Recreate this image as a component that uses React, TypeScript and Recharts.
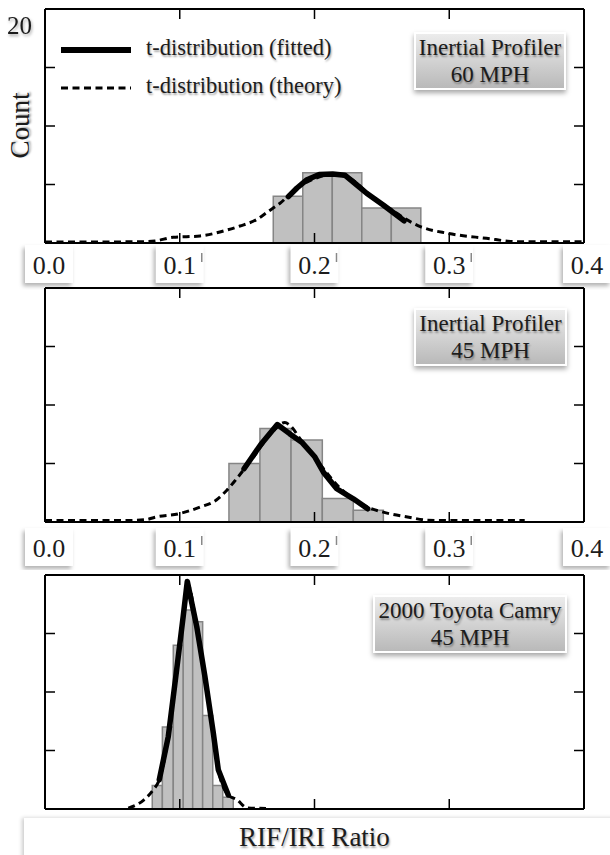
import React from "react";
import { ComposedChart, Line, XAxis, YAxis, ReferenceArea } from "recharts";

const xTicks = [0, 0.1, 0.2, 0.3, 0.4];
const yTicks = [0, 5, 10, 15, 20];
const seriesNames = ["t-distribution (fitted)", "t-distribution (theory)"];

// Inertial Profiler, 60 MPH
const topBinEdges = [0.1694, 0.1913, 0.2132, 0.2351, 0.257, 0.2789];
const topCounts = [4, 6, 6, 3, 3];
const topFitX = [0.1806, 0.187, 0.194, 0.2035, 0.2135, 0.2225, 0.231, 0.2387, 0.251, 0.2665];
const topFitY = [3.96, 4.7, 5.38, 5.85, 5.9, 5.8, 5.0, 4.25, 3.25, 1.9];
const topTheoryX = [0, 0.02, 0.04, 0.06, 0.075, 0.0816, 0.0952, 0.105, 0.115, 0.1348, 0.1447, 0.157, 0.1657, 0.1744, 0.185, 0.2, 0.213, 0.225, 0.24, 0.255, 0.2785, 0.2987, 0.3276, 0.35, 0.375, 0.4];
const topTheoryY = [0.08, 0.08, 0.08, 0.1, 0.12, 0.17, 0.49, 0.54, 0.6, 1.1, 1.45, 2.0, 2.7, 3.4, 4.5, 5.5, 5.85, 5.6, 4.2, 3.0, 1.4, 0.83, 0.4, 0.11, 0.1, 0.1];

// Inertial Profiler, 45 MPH
const midBinEdges = [0.1365, 0.1595, 0.1826, 0.2058, 0.2288, 0.2511];
const midCounts = [5, 8, 7, 2, 1];
const midFitX = [0.1477, 0.16, 0.1724, 0.1815, 0.1905, 0.2, 0.2066, 0.2165, 0.2288, 0.2395];
const midFitY = [4.55, 6.6, 8.33, 7.55, 6.82, 5.6, 4.26, 2.84, 1.98, 1.13];
const midTheoryX = [0, 0.03, 0.06, 0.075, 0.0816, 0.099, 0.115, 0.1274, 0.1348, 0.1422, 0.155, 0.168, 0.178, 0.1818, 0.19, 0.205, 0.218, 0.23, 0.241, 0.251, 0.27, 0.284, 0.3, 0.33, 0.356];
const midTheoryY = [0.12, 0.12, 0.12, 0.2, 0.41, 0.7, 1.27, 1.9, 2.7, 3.7, 5.6, 7.6, 8.5, 8.25, 7.0, 4.8, 3.0, 1.9, 1.2, 0.84, 0.41, 0.15, 0.12, 0.12, 0.12];

// 2000 Toyota Camry, 45 MPH
const botBinEdges = [0.0796, 0.0871, 0.0952, 0.1026, 0.1096, 0.117, 0.1245, 0.1319, 0.1397];
const botCounts = [2, 7, 14, 17, 16, 8, 2, 1];
const botFitX = [0.0848, 0.0915, 0.0977, 0.1026, 0.1056, 0.1126, 0.1187, 0.1249, 0.1286, 0.136];
const botFitY = [2.5, 6.2, 11.9, 16.5, 19.45, 15.6, 11.3, 6.5, 3.36, 1.2];
const botTheoryX = [0.0618, 0.073, 0.0804, 0.0848, 0.0915, 0.0977, 0.1026, 0.1056, 0.1126, 0.1187, 0.1249, 0.1286, 0.136, 0.1423, 0.15, 0.164];
const botTheoryY = [0.08, 0.74, 1.65, 2.5, 6.2, 11.9, 16.5, 19.3, 15.6, 11.3, 6.5, 3.36, 1.2, 0.8, 0.1, 0.05];

const serif = '"Liberation Serif", "Times New Roman", serif';
const ink = "#1c1c1c";
const textShadow = "1px 2px 2px rgba(0,0,0,0.35)";

const toPoints = (xs: number[], ys: number[]) => xs.map((x, i) => ({ x, y: ys[i] }));

function BottomTick(props: any) {
  const { x, y, payload, showLabels, labelOffset } = props;
  const v = payload.value;
  const inner = v > 0.001 && v < 0.399;
  const shift = v < 0.001 ? 4 : v > 0.399 ? 3 : 0;
  return (
    <g>
      {inner && <line x1={x} x2={x} y1={y} y2={y - 10} stroke="#000" strokeWidth={1.5} />}
      {showLabels && (
        <g>
          <rect
            x={x + shift - 24}
            y={y + labelOffset}
            width={48}
            height={38}
            fill="#fff"
            style={{ filter: "drop-shadow(-2px 3px 2px rgba(0,0,0,0.3))" }}
          />
          {inner && (
            <line x1={x + 22} x2={x + 22} y1={y + labelOffset + 8} y2={y + labelOffset + 17} stroke="#888" strokeWidth={1.5} />
          )}
          <text
            x={x + shift}
            y={y + labelOffset + 20}
            textAnchor="middle"
            dominantBaseline="central"
            fontSize={26}
            fontFamily={serif}
            fill={ink}
          >
            {v.toFixed(1)}
          </text>
        </g>
      )}
    </g>
  );
}

function TopTick(props: any) {
  const { x, y, payload } = props;
  const v = payload.value;
  if (v < 0.001 || v > 0.399) return <g />;
  return <line x1={x} x2={x} y1={y} y2={y + 10} stroke="#000" strokeWidth={1.5} />;
}

function LeftTick(props: any) {
  const { x, y, payload, showTop } = props;
  const v = payload.value;
  return (
    <g>
      {v > 0 && v < 20 && <line x1={x} x2={x + 10} y1={y} y2={y} stroke="#000" strokeWidth={1.5} />}
      {showTop && v === 20 && (
        <text
          x={19.5}
          y={y + 16}
          textAnchor="middle"
          dominantBaseline="central"
          fontSize={25}
          fontFamily={serif}
          fill={ink}
          style={{ filter: "drop-shadow(1px 2px 1.5px rgba(0,0,0,0.35))" }}
        >
          {v}
        </text>
      )}
    </g>
  );
}

function RightTick(props: any) {
  const { x, y, payload } = props;
  const v = payload.value;
  if (v <= 0 || v >= 20) return <g />;
  return <line x1={x} x2={x - 10} y1={y} y2={y} stroke="#000" strokeWidth={1.5} />;
}

function NameBox({ left, top, width, lines }: { left: number; top: number; width: number; lines: string[] }) {
  return (
    <div
      style={{
        position: "absolute",
        left,
        top,
        width,
        height: 58,
        boxSizing: "border-box",
        border: "2px solid #fff",
        background: "linear-gradient(#ececec, #b9b9b9)",
        boxShadow: "0 3px 5px rgba(0,0,0,0.35)",
        display: "flex",
        flexDirection: "column",
        justifyContent: "center",
        alignItems: "center",
        fontFamily: serif,
        fontSize: 23,
        lineHeight: "27px",
        color: ink,
        textShadow,
        whiteSpace: "nowrap",
      }}
    >
      {lines.map((l) => (
        <div key={l}>{l}</div>
      ))}
    </div>
  );
}

type PanelProps = {
  top: number;
  height: number;
  marginTop: number;
  marginBottom: number;
  edges: number[];
  counts: number[];
  fit: { x: number; y: number }[];
  theory: { x: number; y: number }[];
  showLabels: boolean;
  labelOffset: number;
  showTop: boolean;
};

function Panel(p: PanelProps) {
  return (
    <div style={{ position: "absolute", left: 0, top: p.top }}>
      <ComposedChart
        width={610}
        height={p.height}
        margin={{ top: p.marginTop - 1, right: 25, bottom: p.marginBottom - 1, left: 44 }}
      >
        <XAxis
          xAxisId={0}
          type="number"
          dataKey="x"
          domain={[0, 0.4]}
          ticks={xTicks}
          interval={0}
          height={1}
          tickSize={0}
          tickMargin={0}
          tickLine={false}
          axisLine={{ stroke: "#000", strokeWidth: 2 }}
          allowDataOverflow
          tick={(t: any) => <BottomTick {...t} showLabels={p.showLabels} labelOffset={p.labelOffset} />}
        />
        <XAxis
          xAxisId="top"
          orientation="top"
          type="number"
          dataKey="x"
          domain={[0, 0.4]}
          ticks={xTicks}
          interval={0}
          height={1}
          tickSize={0}
          tickMargin={0}
          tickLine={false}
          axisLine={{ stroke: "#000", strokeWidth: 2 }}
          allowDataOverflow
          tick={(t: any) => <TopTick {...t} />}
        />
        <YAxis
          yAxisId={0}
          type="number"
          domain={[0, 20]}
          ticks={yTicks}
          interval={0}
          width={1}
          tickSize={0}
          tickMargin={0}
          tickLine={false}
          axisLine={{ stroke: "#000", strokeWidth: 2 }}
          allowDataOverflow
          tick={(t: any) => <LeftTick {...t} showTop={p.showTop} />}
        />
        <YAxis
          yAxisId="right"
          orientation="right"
          type="number"
          domain={[0, 20]}
          ticks={yTicks}
          interval={0}
          width={1}
          tickSize={0}
          tickMargin={0}
          tickLine={false}
          axisLine={{ stroke: "#000", strokeWidth: 2 }}
          allowDataOverflow
          tick={(t: any) => <RightTick {...t} />}
        />
        {p.counts.map((c, i) => (
          <ReferenceArea
            key={i}
            x1={p.edges[i]}
            x2={p.edges[i + 1]}
            y1={0}
            y2={c}
            fill="#c0c0c0"
            fillOpacity={1}
            stroke="#858585"
            strokeWidth={1.5}
            strokeOpacity={1}
          />
        ))}
        <Line
          data={p.theory}
          dataKey="y"
          name={seriesNames[1]}
          type="monotone"
          stroke="#000"
          strokeWidth={3}
          strokeDasharray="7 4.5"
          dot={false}
          activeDot={false}
          isAnimationActive={false}
        />
        <Line
          data={p.fit}
          dataKey="y"
          name={seriesNames[0]}
          type="linear"
          stroke="#000"
          strokeWidth={5.5}
          strokeLinecap="round"
          strokeLinejoin="round"
          dot={false}
          activeDot={false}
          isAnimationActive={false}
        />
      </ComposedChart>
    </div>
  );
}

function LegendOverlay() {
  const rows = [
    { y: 50, dash: undefined, w: 6 },
    { y: 88, dash: "7 4.5", w: 3 },
  ];
  return (
    <>
      <svg style={{ position: "absolute", left: 0, top: 0 }} width={140} height={100}>
        {rows.map((r, i) => (
          <line key={i} x1={61} x2={131} y1={r.y} y2={r.y} stroke="#000" strokeWidth={r.w} strokeDasharray={r.dash} />
        ))}
      </svg>
      {seriesNames.map((n, i) => (
        <div
          key={n}
          style={{
            position: "absolute",
            left: 146,
            top: rows[i].y - 2 - 14,
            height: 28,
            lineHeight: "28px",
            fontFamily: serif,
            fontSize: 22.5,
            color: ink,
            textShadow,
            whiteSpace: "nowrap",
          }}
        >
          {n}
        </div>
      ))}
    </>
  );
}

export default function App() {
  return (
    <div
      style={{
        position: "absolute",
        left: 0,
        top: 0,
        width: 610,
        height: 855,
        overflow: "hidden",
        background: "#fff",
      }}
    >
      <Panel
        top={0}
        height={290}
        marginTop={9}
        marginBottom={47}
        edges={topBinEdges}
        counts={topCounts}
        fit={toPoints(topFitX, topFitY)}
        theory={toPoints(topTheoryX, topTheoryY)}
        showLabels
        labelOffset={2}
        showTop
      />
      <Panel
        top={280}
        height={290}
        marginTop={8}
        marginBottom={48}
        edges={midBinEdges}
        counts={midCounts}
        fit={toPoints(midFitX, midFitY)}
        theory={toPoints(midTheoryX, midTheoryY)}
        showLabels
        labelOffset={6}
        showTop={false}
      />
      <Panel
        top={566}
        height={289}
        marginTop={9}
        marginBottom={46}
        edges={botBinEdges}
        counts={botCounts}
        fit={toPoints(botFitX, botFitY)}
        theory={toPoints(botTheoryX, botTheoryY)}
        showLabels={false}
        labelOffset={0}
        showTop={false}
      />
      <LegendOverlay />
      <NameBox left={414} top={32} width={152} lines={["Inertial Profiler", "60 MPH"]} />
      <NameBox left={414} top={308} width={153} lines={["Inertial Profiler", "45 MPH"]} />
      <NameBox left={373} top={595} width={194} lines={["2000 Toyota Camry", "45 MPH"]} />
      <div
        style={{
          position: "absolute",
          left: 20,
          top: 125 - 15,
          width: 0,
          height: 30,
          display: "flex",
          alignItems: "center",
          justifyContent: "center",
        }}
      >
        <div
          style={{
            transform: "rotate(-90deg)",
            fontFamily: serif,
            fontSize: 27,
            color: ink,
            textShadow,
            whiteSpace: "nowrap",
          }}
        >
          Count
        </div>
      </div>
      <div
        style={{
          position: "absolute",
          left: 24,
          top: 818,
          width: 600,
          height: 45,
          background: "#fff",
          boxShadow: "-2px 0 4px rgba(0,0,0,0.2)",
        }}
      />
      <div
        style={{
          position: "absolute",
          left: 314.5 - 150,
          top: 837 - 16,
          width: 300,
          height: 32,
          lineHeight: "32px",
          textAlign: "center",
          fontFamily: serif,
          fontSize: 27,
          color: ink,
          textShadow,
        }}
      >
        RIF/IRI Ratio
      </div>
    </div>
  );
}
